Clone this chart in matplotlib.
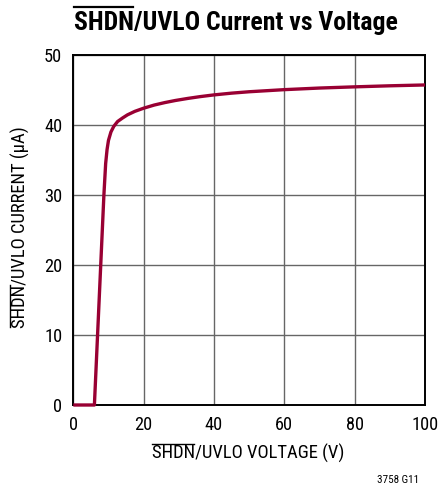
import matplotlib
matplotlib.use("Agg")
import matplotlib.pyplot as plt
from matplotlib import font_manager
from matplotlib.font_manager import FontProperties
from matplotlib.lines import Line2D

# ---------------- data ----------------
voltage = [0, 6.0, 6.9, 7.8, 8.7, 9.2, 9.6, 10.0, 10.7, 11.5, 12.6, 14.0, 15.4,
           17.5, 20.0, 23.0, 26.0, 29.0, 32.6, 36.0, 40.0, 45.0, 50.0, 60.0,
           70.0, 80.0, 90.0, 100.0]
current = [0, 0, 10, 20, 30, 34.5, 36.5, 37.8, 39.0, 39.8, 40.5, 41.0, 41.45,
           41.95, 42.4, 42.85, 43.2, 43.5, 43.8, 44.05, 44.3, 44.55, 44.75, 45.05,
           45.28, 45.45, 45.6, 45.72]
xticks = [0, 20, 40, 60, 80, 100]
yticks = [0, 10, 20, 30, 40, 50]
title_bar, title_rest = 'SHDN', '/UVLO Current vs Voltage'
xlab_bar, xlab_rest = 'SHDN', '/UVLO VOLTAGE (V)'
ylab_bar, ylab_rest = 'SHDN', '/UVLO CURRENT (µA)'
note = '3758 G11'

# ---------------- font choice (condensed if available) ----------------
def pick(weight_bold):
    prefs = ['Liberation Sans Narrow', 'Roboto Condensed', 'Open Sans Condensed',
             'Noto Sans', 'DejaVu Sans', 'Liberation Sans']
    cands = []
    for f in font_manager.fontManager.ttflist:
        st = str(f.stretch).lower()
        narrow = ('narrow' in f.name.lower() or 'condensed' in f.name.lower()
                  or st in ('condensed', 'semi-condensed', 'extra-condensed')
                  or 'condensed' in f.fname.lower() or 'narrow' in f.fname.lower())
        if not narrow or f.style != 'normal':
            continue
        w = f.weight if isinstance(f.weight, int) else {'bold': 700, 'normal': 400}.get(f.weight, 400)
        if weight_bold and w < 600:
            continue
        if not weight_bold and (w < 350 or w > 500):
            continue
        if 'extra' in f.fname.lower() or 'semi' in f.fname.lower():
            continue
        rank = next((i for i, p in enumerate(prefs) if f.name.startswith(p)), 99)
        cands.append((rank, f.fname))
    if cands:
        cands.sort()
        return FontProperties(fname=cands[0][1])
    return FontProperties(family='Liberation Sans', weight='bold' if weight_bold else 'normal')

fp_reg = pick(False)
fp_bold = pick(True)

W, H = 445, 486
fig = plt.figure(figsize=(W / 100, H / 100), dpi=100)
L, R, T, B = 73.3, 425, 55, 405
ax = fig.add_axes([L / W, (H - B) / H, (R - L) / W, (B - T) / H])

ax.plot(voltage, current, color='#990033', lw=2.4, solid_joinstyle='round',
        solid_capstyle='butt', clip_on=False, zorder=5)

ax.set_xlim(0, 100)
ax.set_ylim(0, 50)
ax.set_xticks(xticks)
ax.set_yticks(yticks)
ax.tick_params(length=0)
for lab in ax.get_xticklabels() + ax.get_yticklabels():
    lab.set_fontproperties(fp_reg)
    lab.set_fontsize(13.2)
ax.tick_params(axis='y', pad=8)
ax.tick_params(axis='x', pad=8)
ax.grid(True, color='#666666', lw=1.0)
ax.set_axisbelow(True)
for s in ax.spines.values():
    s.set_linewidth(1.4)
    s.set_color('black')

renderer = fig.canvas.get_renderer()

def measure(s, fp, size):
    p = fp.copy()
    p.set_size(size)
    w, h, d = renderer.get_text_width_height_descent(s, p, ismath=False)
    return w, h - d

def fx(px):
    return px / W

def fy(py):
    return 1 - py / H

def horiz_label(bar, rest, fp, size, cx, base, gap, lw):
    full = bar + rest
    p = fp.copy()
    p.set_size(size)
    fig.text(fx(cx), fy(base), full, fontproperties=p, ha='center', va='baseline')
    wf, _ = measure(full, fp, size)
    wb, hb = measure(bar, fp, size)
    x0 = cx - wf / 2
    yb = base - hb - gap
    fig.add_artist(Line2D([fx(x0 + 0.5), fx(x0 + wb - 0.5)], [fy(yb), fy(yb)],
                          transform=fig.transFigure, color='black', lw=lw))

def vert_label(bar, rest, fp, size, base_x, cy, gap, lw):
    full = bar + rest
    p = fp.copy()
    p.set_size(size)
    fig.text(fx(base_x), fy(cy), full, fontproperties=p, rotation=90,
             rotation_mode='anchor', ha='center', va='baseline')
    wf, _ = measure(full, fp, size)
    wb, hb = measure(bar, fp, size)
    y0 = cy + wf / 2          # bottom of the text (pixel rows grow downward)
    xb = base_x - hb - gap
    fig.add_artist(Line2D([fx(xb), fx(xb)], [fy(y0 - 0.5), fy(y0 - wb + 0.5)],
                          transform=fig.transFigure, color='black', lw=lw))

horiz_label(title_bar, title_rest, fp_bold, 18.5, 235.5, 30, 3.5, 1.6)
horiz_label(xlab_bar, xlab_rest, fp_reg, 13.4, 248, 459, 2.5, 1.0)
vert_label(ylab_bar, ylab_rest, fp_reg, 13.4, 25.5, 227, 2.5, 1.0)

p_note = fp_reg.copy()
p_note.set_size(8)
fig.text(fx(419), fy(483), note, fontproperties=p_note, ha='right', va='baseline')

fig.savefig('out.png', dpi=100)
